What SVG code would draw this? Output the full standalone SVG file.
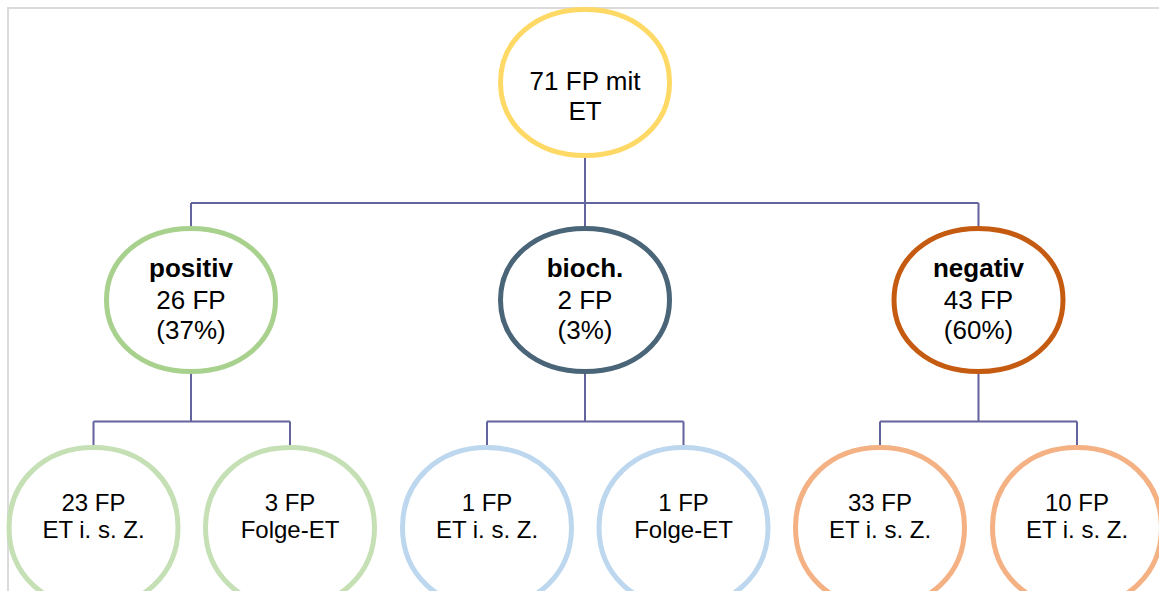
<svg xmlns="http://www.w3.org/2000/svg" xmlns:xlink="http://www.w3.org/1999/xlink" width="1159" height="591" viewBox="0 0 1159 591">
  <style>
    .frame { fill: none; stroke: #DADADA; stroke-width: 2; }
    .conn { fill: none; stroke: #63639E; stroke-width: 2; }
    .node { fill: #FFFFFF; stroke-width: 5; }
    .t { font-family: "Liberation Sans", Arial, sans-serif; fill: #000000; text-anchor: middle; }
    .t26 { font-size: 26px; }
    .t24 { font-size: 24px; }
    .b { font-weight: bold; }
    .yellow { stroke: #FFD966; }
    .green { stroke: #A9D18E; }
    .slate { stroke: #4A6578; }
    .rust { stroke: #C55A11; }
    .lgreen { stroke: #C5E0B4; }
    .lblue { stroke: #BDD7EE; }
    .lorange { stroke: #F4B183; }
  </style>
  <defs>
    <!-- rounded oval outlines centred at the origin -->
    <path id="ovalTall" d="M-84.5,0 C-84.5,-42.3 -49,-73 0,-73 C49,-73 84.5,-42.3 84.5,0 C84.5,42.3 49,73 0,73 C-49,73 -84.5,42.3 -84.5,0 Z"/>
    <path id="oval" d="M-84.5,0 C-84.5,-41.5 -49,-71.5 0,-71.5 C49,-71.5 84.5,-41.5 84.5,0 C84.5,41.5 49,71.5 0,71.5 C-49,71.5 -84.5,41.5 -84.5,0 Z"/>
    <path id="ovalLow" d="M-84.5,0 C-84.5,-46.4 -49,-80 0,-80 C49,-80 84.5,-46.4 84.5,0 C84.5,46.4 49,80 0,80 C-49,80 -84.5,46.4 -84.5,0 Z"/>
  </defs>

  <!-- page frame -->
  <g id="frame">
    <path class="frame" d="M8,591 V8 H1159"/>
  </g>

  <!-- connectors -->
  <g id="connectors">
    <path class="conn" d="M585,158 V203 M191,203 H978.5 M191,203 V226 M585,203 V226 M978.5,203 V226"/>
    <path class="conn" d="M191,374 V421.5 M93.5,421.5 H290 M93.5,421.5 V445 M290,421.5 V445"/>
    <path class="conn" d="M585,374 V421.5 M487,421.5 H683.5 M487,421.5 V445 M683.5,421.5 V445"/>
    <path class="conn" d="M978.5,374 V421.5 M880,421.5 H1077 M880,421.5 V445 M1077,421.5 V445"/>
  </g>

  <!-- root -->
  <g id="node-root">
    <use xlink:href="#ovalTall" class="node yellow" transform="translate(585,82.5)"/>
    <text class="t t26" x="585" y="90">71 FP mit</text>
    <text class="t t26" x="585" y="120">ET</text>
  </g>

  <!-- second level -->
  <g id="node-positiv">
    <use xlink:href="#oval" class="node green" transform="translate(191,300)"/>
    <text class="t t26 b" x="191" y="277">positiv</text>
    <text class="t t26" x="191" y="308.5">26 FP</text>
    <text class="t t26" x="191" y="339">(37%)</text>
  </g>
  <g id="node-bioch">
    <use xlink:href="#oval" class="node slate" transform="translate(585,300)"/>
    <text class="t t26 b" x="585" y="277">bioch.</text>
    <text class="t t26" x="585" y="308.5">2 FP</text>
    <text class="t t26" x="585" y="339">(3%)</text>
  </g>
  <g id="node-negativ">
    <use xlink:href="#oval" class="node rust" transform="translate(978.5,300)"/>
    <text class="t t26 b" x="978.5" y="277">negativ</text>
    <text class="t t26" x="978.5" y="308.5">43 FP</text>
    <text class="t t26" x="978.5" y="339">(60%)</text>
  </g>

  <!-- third level -->
  <g id="node-pos-a">
    <use xlink:href="#ovalLow" class="node lgreen" transform="translate(93.5,527.5)"/>
    <text class="t t24" x="93.5" y="510.5">23 FP</text>
    <text class="t t24" x="93.5" y="538">ET i. s. Z.</text>
  </g>
  <g id="node-pos-b">
    <use xlink:href="#ovalLow" class="node lgreen" transform="translate(290,527.5)"/>
    <text class="t t24" x="290" y="510.5">3 FP</text>
    <text class="t t24" x="290" y="538">Folge-ET</text>
  </g>
  <g id="node-bio-a">
    <use xlink:href="#ovalLow" class="node lblue" transform="translate(487,527.5)"/>
    <text class="t t24" x="487" y="510.5">1 FP</text>
    <text class="t t24" x="487" y="538">ET i. s. Z.</text>
  </g>
  <g id="node-bio-b">
    <use xlink:href="#ovalLow" class="node lblue" transform="translate(683.5,527.5)"/>
    <text class="t t24" x="683.5" y="510.5">1 FP</text>
    <text class="t t24" x="683.5" y="538">Folge-ET</text>
  </g>
  <g id="node-neg-a">
    <use xlink:href="#ovalLow" class="node lorange" transform="translate(880,527.5)"/>
    <text class="t t24" x="880" y="510.5">33 FP</text>
    <text class="t t24" x="880" y="538">ET i. s. Z.</text>
  </g>
  <g id="node-neg-b">
    <use xlink:href="#ovalLow" class="node lorange" transform="translate(1077,527.5)"/>
    <text class="t t24" x="1077" y="510.5">10 FP</text>
    <text class="t t24" x="1077" y="538">ET i. s. Z.</text>
  </g>
</svg>
